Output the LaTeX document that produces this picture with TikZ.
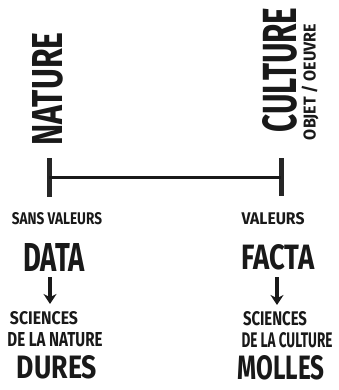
\documentclass[tikz,border=0pt]{standalone}
\usepackage{fontspec}
\setmainfont{Fira Sans}
\usetikzlibrary{arrows.meta}
\newcommand\fitt[3]{\resizebox{#1pt}{#2pt}{\bfseries #3}}
\begin{document}
\begin{tikzpicture}[x=1pt,y=-1pt,
  lbl/.style={inner sep=0pt, outer sep=0pt, anchor=center, text=black!90},
  arr/.style={line width=3.4pt, black!90, -{Stealth[length=10pt,width=13pt]}},
  bar/.style={line width=3pt, black!90},
  tickbar/.style={line width=5pt, black!85}]
\useasboundingbox (0,0) rectangle (338,390);
% poles
\node[lbl, rotate=90] (nature) at (48,89) {\fitt{113}{30}{NATURE}};
\node[lbl, rotate=90] (culture) at (280,70) {\fitt{125}{34}{CULTURE}};
\node[lbl, rotate=90] (objet) at (310,82) {\fitt{116}{14}{OBJET / OEUVRE}};
% bar
\coordinate (Ltop) at (49,158);
\coordinate (Lbot) at (49,197);
\coordinate (Rtop) at (281,158);
\coordinate (Rbot) at (281,196);
\coordinate (L) at (49,177);
\coordinate (R) at (281,177);
\draw[tickbar] (Ltop) -- (Lbot);
\draw[tickbar] (Rtop) -- (Rbot);
\draw[bar] (L) -- (R);
% left column
\node[lbl] (sans) at (57,219) {\fitt{90}{12}{SANS VALEURS}};
\node[lbl] (data) at (54,257) {\fitt{62}{28}{DATA}};
\node[lbl] (sci1) at (44,318) {\fitt{68}{13}{SCIENCES}};
\node[lbl] (nat) at (55,340) {\fitt{95}{14}{DE LA NATURE}};
\node[lbl] (dures) at (57,367) {\fitt{80}{23}{DURES}};
% right column
\node[lbl] (val) at (273,219) {\fitt{63}{12}{VALEURS}};
\node[lbl] (facta) at (278,257) {\fitt{73}{25}{FACTA}};
\node[lbl] (sci2) at (275,319) {\fitt{64}{14}{SCIENCES}};
\node[lbl] (cul) at (287,340) {\fitt{91}{15}{DE LA CULTURE}};
\node[lbl] (molles) at (281,368) {\fitt{87}{24}{MOLLES}};
% arrows
\coordinate (a1s) at (50,277);
\coordinate (a1e) at (50,304);
\coordinate (a2s) at (277,277);
\coordinate (a2e) at (277,305);
\draw[arr] (a1s) -- (a1e);
\draw[arr] (a2s) -- (a2e);
\end{tikzpicture}
\end{document}
